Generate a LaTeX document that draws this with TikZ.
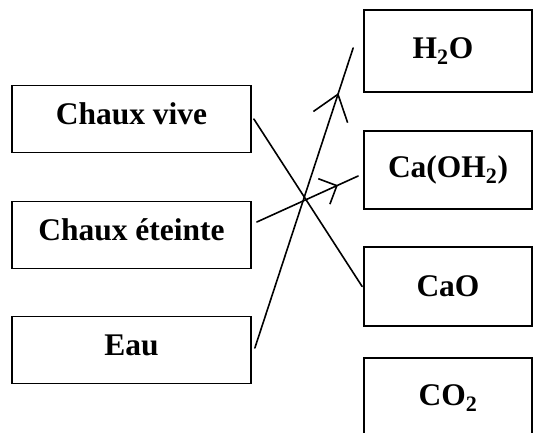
\documentclass[tikz,border=0pt]{standalone}
\usepackage{fontspec}
\setmainfont{Liberation Serif}
\usetikzlibrary{arrows.meta,decorations.markings}

\tikzset{every picture/.style={line width=0.75pt}}
\tikzset{
  box/.style={draw, rectangle, line width=1.7pt, inner sep=0pt, font=\fontsize{31.5}{36}\selectfont\bfseries},
  leftbox/.style={box, minimum width=239pt, minimum height=67pt, text depth=10pt},
  rightbox/.style={box, minimum width=168pt, minimum height=80pt},
  pen/.style={line width=1.6pt, line cap=round},
  midarrow/.style 2 args={postaction={decorate}, decoration={markings, mark=at position #1 with {\arrow{#2}}}}
}

\begin{document}
\begin{tikzpicture}[x=1pt,y=1pt,yscale=-1,xscale=1]
\clip (0,0) rectangle (533,433);

% Text Node
\node [leftbox] (cvive) at (131.5,119) {Chaux vive};
% Text Node
\node [leftbox] (ceteinte) at (131.5,235) {Chaux éteinte};
% Text Node
\node [leftbox] (eau) at (131.5,350) {Eau};

% Text Node
\node [rightbox, minimum height=82pt] (h2o) at (448,51) {H\textsubscript{2}O\hspace*{10pt}};
% Text Node
\node [rightbox, minimum height=78pt] (caoh) at (448,170) {Ca(OH\textsubscript{2})};
% Text Node
\node [rightbox, minimum height=79pt] (cao) at (448,286.5) {CaO};
% Text Node
\node [rightbox] (co2) at (448,398) {CO\textsubscript{2}};

\coordinate (eauend) at ([xshift=-10pt,yshift=-3pt]h2o.west);

%Straight Lines
\draw [pen] ([xshift=2pt]cvive.east) -- ([xshift=-1pt]cao.west);
%Straight Lines
\draw [pen, midarrow={0.8}{Straight Barb[length=14pt,width=28pt]}] ([xshift=5pt,yshift=-13pt]ceteinte.east) -- ([xshift=-5pt,yshift=6pt]caoh.west);
%Straight Lines
\draw [pen, midarrow={0.85}{Straight Barb[length=24pt,width=36pt]}] ([xshift=3pt,yshift=-2pt]eau.east) -- (eauend);

\end{tikzpicture}
\end{document}
